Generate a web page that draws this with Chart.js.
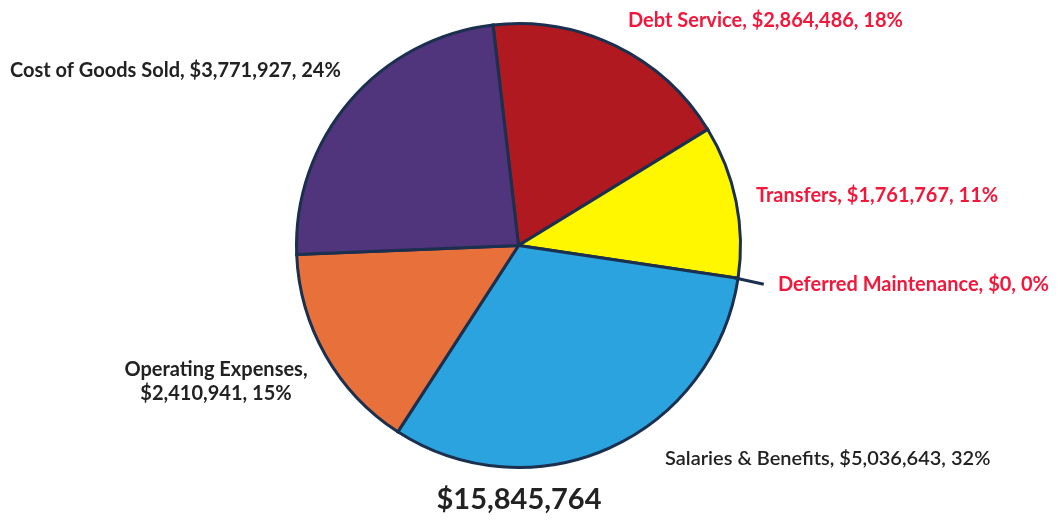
<!DOCTYPE html>
<html>
<head>
<meta charset="utf-8">
<script src="https://cdn.jsdelivr.net/npm/chart.js@4.4.1/dist/chart.umd.min.js"></script>
<style>
  html, body { margin: 0; padding: 0; background: #fff; }
  #wrap { width: 1060px; height: 521px; position: relative; }
</style>
</head>
<body>
<div id="wrap"><canvas id="budgetPie"></canvas></div>
<script>
const categories = ['Debt Service', 'Transfers', 'Deferred Maintenance', 'Salaries & Benefits', 'Operating Expenses', 'Cost of Goods Sold'];
const amounts = [2864486, 1761767, 0, 5036643, 2410941, 3771927];
const sliceColors = ['#B0191F', '#FFF700', '#2AA3DF', '#2AA3DF', '#E8703A', '#50347C'];
const labelColors = ['#F2183C', '#F2183C', '#F2183C', '#222222', '#222222', '#222222'];

const total = amounts.reduce((a, b) => a + b, 0);
const money = v => '$' + v.toLocaleString('en-US');
const pct = v => Math.round(v / total * 100) + '%';

// where each slice label sits, and its font
const labelSpots = [
  { x: 628, y: 21, align: 'left', font: 'bold 20px Lato' },
  { x: 756, y: 196, align: 'left', font: 'bold 20px Lato' },
  { x: 778, y: 285, align: 'left', font: 'bold 20px Lato' },
  { x: 665, y: 459, align: 'left', font: '600 20px Lato' },
  { x: 216, y: 370, align: 'center', font: 'bold 20px Lato', split: true },
  { x: 10, y: 71, align: 'left', font: 'bold 20px Lato' }
];

const labelPlugin = {
  id: 'sliceLabels',
  afterDatasetsDraw(chart) {
    const ctx = chart.ctx;
    const arcs = chart.getDatasetMeta(0).data;
    ctx.save();
    // leader line for the empty slice
    const zero = arcs[2];
    const a = zero.startAngle;
    ctx.strokeStyle = '#1B2F4F';
    ctx.lineWidth = 3;
    ctx.beginPath();
    ctx.moveTo(zero.x + Math.cos(a) * (zero.outerRadius - 4), zero.y + Math.sin(a) * (zero.outerRadius - 4));
    ctx.lineTo(zero.x + Math.cos(a) * (zero.outerRadius + 26), zero.y + Math.sin(a) * (zero.outerRadius + 26) + 2);
    ctx.stroke();

    ctx.textBaseline = 'middle';
    categories.forEach((name, i) => {
      const s = labelSpots[i];
      ctx.fillStyle = labelColors[i];
      ctx.textAlign = s.align;
      ctx.font = s.font;
      if (s.split) {
        ctx.fillText(name + ',', s.x, s.y);
        ctx.fillText(money(amounts[i]) + ', ' + pct(amounts[i]), s.x, s.y + 24);
      } else {
        ctx.fillText(name + ', ' + money(amounts[i]) + ', ' + pct(amounts[i]), s.x, s.y);
      }
    });

    ctx.fillStyle = '#222222';
    ctx.textAlign = 'center';
    ctx.font = 'bold 29px Lato';
    ctx.fillText(money(total), 519, 500);
    ctx.restore();
  }
};

new Chart(document.getElementById('budgetPie'), {
  type: 'pie',
  data: {
    labels: categories,
    datasets: [{
      data: amounts,
      backgroundColor: sliceColors,
      borderColor: '#1B2F4F',
      borderWidth: 3,
      borderJoinStyle: 'miter'
    }]
  },
  options: {
    responsive: true,
    maintainAspectRatio: false,
    animation: false,
    rotation: -6.6,
    layout: { padding: { top: 22, bottom: 52, left: 295, right: 318 } },
    plugins: {
      legend: { display: false },
      tooltip: { enabled: false }
    }
  },
  plugins: [labelPlugin]
});
</script>
</body>
</html>
